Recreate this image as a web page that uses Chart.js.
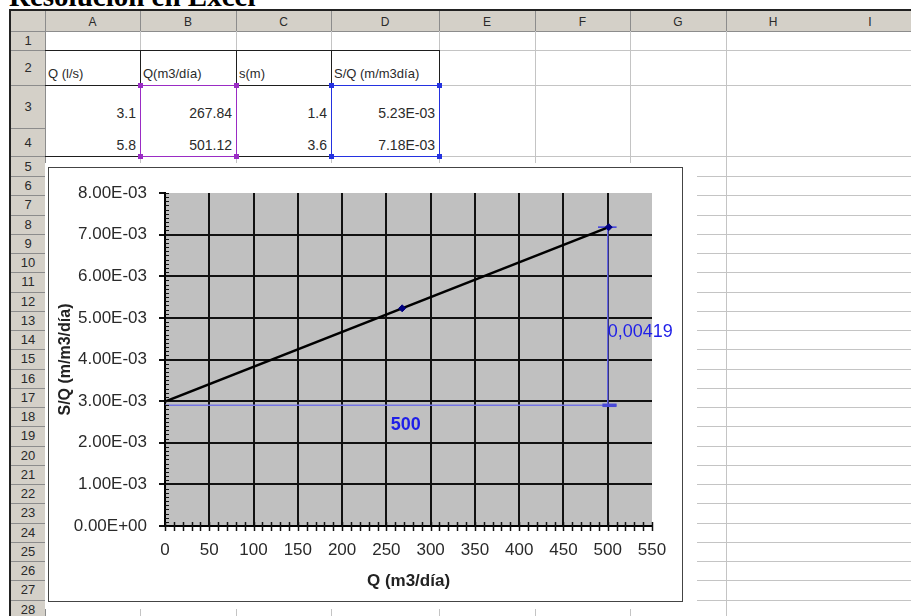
<!DOCTYPE html>
<html><head><meta charset="utf-8">
<script src="https://cdn.jsdelivr.net/npm/chart.js@4/dist/chart.umd.min.js"></script>
<style>
html,body{margin:0;padding:0;width:911px;height:616px;overflow:hidden;background:#fff;font-family:"Liberation Sans",Arial,sans-serif;}
#title{position:absolute;left:9px;top:-18px;font:bold 29px/29px "Liberation Serif","Times New Roman",serif;color:#000;white-space:nowrap;}
#chartbox{position:absolute;left:48px;top:167px;width:633px;height:433px;border:1px solid #444;background:#fff;}
#c{display:block;}
</style></head><body>
<div id="title">Resolución en Excel</div>
<div id="sheet"></div>
<div id="chartbox"><canvas id="c" width="633" height="433"></canvas></div>
<script>
// ---------- data ----------
const columnLetters = ['A','B','C','D','E','F','G','H','I'];
const headerRow = ['Q (l/s)','Q(m3/día)','s(m)','S/Q (m/m3día)'];
const caudalLs = ['3.1','5.8'];
const caudalM3dia = [267.84, 501.12];
const descenso = ['1.4','3.6'];
const sqLabels = ['5.23E-03','7.18E-03'];
const sqValues = [0.00523, 0.00718];
const trendQ = [0, 501.12];
const trendSQ = [0.00299, 0.00718];
const dimHQ = [0, 510], dimHSQ = [0.0029, 0.0029];
const dimVQ = [500, 500], dimVSQ = [0.0029, 0.00718];
const capTopQ = [489, 510], capTopSQ = [0.00718, 0.00718];
const capBotQ = [494, 510], capBotSQ = [0.0029, 0.0029];
const annotTexts = ['500','0,00419'];
const annotQ = [272, 500];
const annotSQ = [0.00243, 0.00466];
const xTickLabels = ['0','50','100','150','200','250','300','350','400','450','500','550'];
const yTickLabels = ['0.00E+00','1.00E-03','2.00E-03','3.00E-03','4.00E-03','5.00E-03','6.00E-03','7.00E-03','8.00E-03'];

// ---------- spreadsheet ----------
const sheet = document.getElementById('sheet');
function box(x,y,w,h,style){const d=document.createElement('div');d.style.cssText=`position:absolute;left:${x}px;top:${y}px;width:${w}px;height:${h}px;`+(style||'');sheet.appendChild(d);return d;}
function hl(x1,x2,y,c,t){box(x1,y,x2-x1,t||1,'background:'+c);}
function vl(x,y1,y2,c,t){box(x,y1,t||1,y2-y1,'background:'+c);}
function txt(s,x,y,w,h,style){const d=box(x,y,w,h,'display:flex;align-items:center;white-space:nowrap;color:#2a2a2a;'+(style||''));d.textContent=s;return d;}
const G='#c4c4c4', D='#1e1e1e', HDR='#d4d0c8', SEP='#8c8c8c';
const colEdges=[45,140,236,331,439,535,630,726,820,920];
const rowEdges=[31,50,85,128,156,176];
for(let k=1;k<=23;k++) rowEdges.push(176+k*19.25);

// headers
box(11,11,900,20,'background:'+HDR);
box(11,31,34,590,'background:'+HDR);
hl(11,911,31,SEP);
vl(45,11,616,SEP);
for(let i=1;i<colEdges.length-2;i++) vl(colEdges[i],11,31,SEP);
columnLetters.forEach((L,i)=>txt(L,colEdges[i],12,colEdges[i+1]-colEdges[i],19,'justify-content:center;font-size:12px;'));
for(let r=0;r<28;r++){
  const y0=rowEdges[r], y1=rowEdges[r+1];
  if(r>0) hl(11,45,y0,SEP);
  txt(String(r+1),11,y0,34,(y1||616)-y0,'justify-content:center;font-size:13px;');
}
// frame
hl(9,911,9,'#222',2);
vl(9,9,616,'#222',2);

// cell grid
[140,236,331,439].forEach(x=>{vl(x,31,50,G);vl(x,157,163,G);vl(x,609,616,G);});
[535,630].forEach(x=>{vl(x,31,163,G);vl(x,609,616,G);});
vl(726,31,616,G);
[50,85,156].forEach(y=>{hl(439,911,y,G);});
for(let r=5;r<rowEdges.length;r++) hl(697,911,rowEdges[r],G);
// table borders
[50,85,156].forEach(y=>hl(45,440,y,D));
[140,236,331,439].forEach(x=>vl(x,50,157,D));
// table text
const cols=[[45,140],[140,236],[236,331],[331,439]];
headerRow.forEach((s,i)=>txt(s,cols[i][0]+3,64,cols[i][1]-cols[i][0]-4,18,'font-size:13px;'));
const rowCols=[caudalLs, caudalM3dia.map(v=>v.toFixed(2)), descenso, sqLabels];
[113,145].forEach((cy,r)=>{
  rowCols.forEach((arr,i)=>txt(arr[r],cols[i][0],cy-9,cols[i][1]-cols[i][0]-4,18,'justify-content:flex-end;font-size:14px;'));
});
// range highlights
function sel(x1,y1,x2,y2,c){
  box(x1,y1,x2-x1+1,y2-y1+1,'box-sizing:border-box;border:1px solid '+c+';');
  [[x1,y1],[x2,y1],[x1,y2],[x2,y2]].forEach(([x,y])=>box(x-2,y-2,5,5,'background:'+c));
}
sel(140,85,236,156,'#9a2cc4');
sel(331,85,439,156,'#2432e0');
// chart object white area
box(45,163,652,446,'background:#fff');

// ---------- chart ----------
const toPts=(xs,ys)=>xs.map((x,i)=>({x:x,y:ys[i]}));
const excelPlugin={
  id:'excel',
  beforeDraw(chart){
    const {ctx,chartArea:a}=chart;
    ctx.save();ctx.fillStyle='#c0c0c0';ctx.fillRect(a.left,a.top,a.right-a.left,a.bottom-a.top);ctx.restore();
  },
  afterDraw(chart){
    const {ctx,chartArea:a,scales:{x,y}}=chart;
    ctx.save();
    ctx.strokeStyle='#111';
    ctx.lineWidth=1.5;
    for(let i=0;i<=55;i++){
      const px=Math.round(x.getPixelForValue(i*10))+0.5;
      ctx.beginPath();ctx.moveTo(px,a.bottom-4);ctx.lineTo(px,a.bottom+5);ctx.stroke();
    }
    ctx.lineWidth=1;
    for(let i=0;i<=80;i++){
      const py=Math.round(y.getPixelForValue(i*0.0001))+0.5;
      ctx.beginPath();ctx.moveTo(a.left,py);ctx.lineTo(a.left+4,py);ctx.stroke();
    }
    ctx.fillStyle='#1f1fe8';
    ctx.textBaseline='middle';
    annotTexts.forEach((t,i)=>{
      ctx.font=(i===0?'bold ':'')+'18px "Liberation Sans", Arial, sans-serif';
      ctx.textAlign=i===0?'center':'left';
      ctx.fillText(t,x.getPixelForValue(annotQ[i]),y.getPixelForValue(annotSQ[i]));
    });
    ctx.restore();
  }
};
const blue={showLine:true,pointRadius:0,borderColor:'#6464e6',borderWidth:1.5,fill:false};
new Chart(document.getElementById('c'),{
  type:'scatter',
  data:{datasets:[
    {label:'S/Q',data:toPts(caudalM3dia,sqValues),showLine:false,pointStyle:'rectRot',pointRadius:3.5,backgroundColor:'#000080',borderColor:'#000080'},
    {label:'Tendencia',data:toPts(trendQ,trendSQ),showLine:true,pointRadius:0,borderColor:'#000',borderWidth:2.5},
    Object.assign({label:'capTop',data:toPts(capTopQ,capTopSQ)},blue,{borderColor:'#3a3ae0'}),
    Object.assign({label:'capBot',data:toPts(capBotQ,capBotSQ)},blue,{borderColor:'#4a4ad8',borderWidth:3.5}),
    Object.assign({label:'dimV',data:toPts(dimVQ,dimVSQ)},blue),
    Object.assign({label:'dimH',data:toPts(dimHQ,dimHSQ)},blue,{borderColor:'#7474e4'})
  ]},
  options:{
    responsive:false,animation:false,devicePixelRatio:1,
    plugins:{legend:{display:false},tooltip:{enabled:false}},
    layout:{padding:{top:25,right:30,left:0,bottom:0}},
    scales:{
      x:{type:'linear',min:0,max:550,
        ticks:{stepSize:50,autoSkip:false,maxRotation:0,color:'#2a2a2a',font:{size:17,family:'"Liberation Sans", Arial, sans-serif'},padding:14,
          callback:(v,i)=>xTickLabels[i]},
        grid:{lineWidth:2,drawTicks:false,color:c=>(c.index===0||c.index===11)?'rgba(0,0,0,0)':'#111'},
        border:{display:true,color:'#000',width:2},
        title:{display:true,text:'Q (m3/día)',color:'#222',font:{size:17,weight:'bold',family:'"Liberation Sans", Arial, sans-serif'},padding:{top:4,bottom:9}},
        afterFit:s=>{s.height=75;s.paddingLeft=0;s.paddingRight=0;}
      },
      y:{type:'linear',min:0,max:0.008,
        ticks:{stepSize:0.001,autoSkip:false,color:'#2a2a2a',font:{size:17,family:'"Liberation Sans", Arial, sans-serif'},padding:12,
          callback:(v,i)=>yTickLabels[i]},
        grid:{lineWidth:2,tickLength:6,tickColor:'#111',color:c=>(c.index===0||c.index===8)?'rgba(0,0,0,0)':'#111'},
        border:{display:true,color:'#000',width:2},
        title:{display:true,text:'S/Q (m/m3/día)',color:'#222',font:{size:16,weight:'bold',family:'"Liberation Sans", Arial, sans-serif'},padding:{top:7,bottom:0}},
        afterFit:s=>{s.width=116;s.paddingTop=0;s.paddingBottom=0;}
      }
    }
  },
  plugins:[excelPlugin]
});
</script>
</body></html>
